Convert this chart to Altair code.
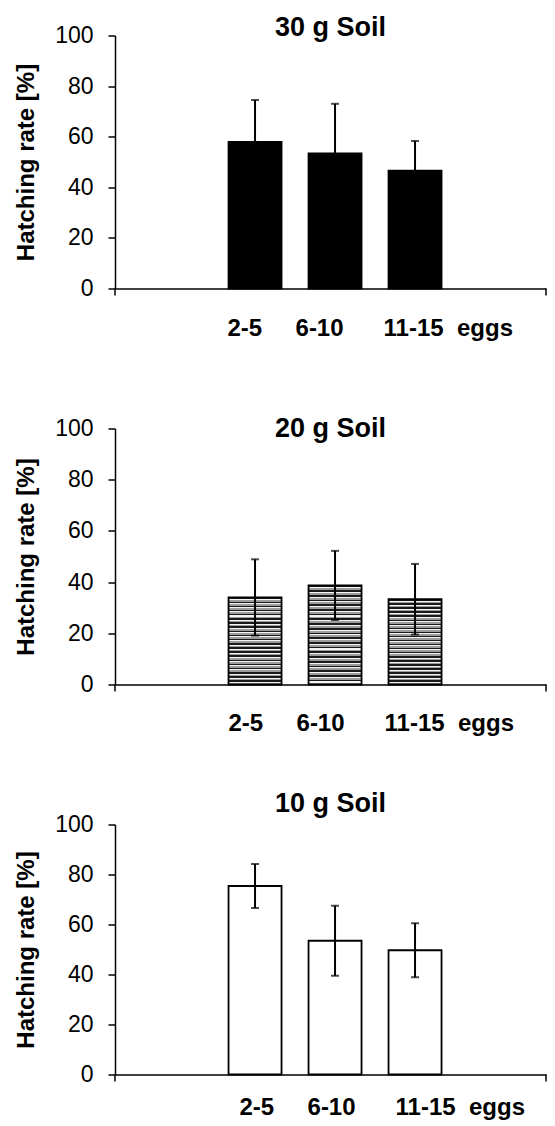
import altair as alt
import pandas as pd

# ---- data ----
cats = ["2-5", "6-10", "11-15"]
x_unit = "eggs"
panel_titles = ["30 g Soil", "20 g Soil", "10 g Soil"]
soil30_mean = [57.9, 53.4, 46.6]
soil30_err = [16.6, 19.6, 11.7]
soil20_mean = [34.0, 38.7, 33.3]
soil20_err = [14.9, 13.5, 13.8]
soil10_mean = [75.4, 53.5, 49.7]
soil10_err = [8.8, 14.0, 10.8]
y_ticks = [0, 20, 40, 60, 80, 100]

FONT = "Liberation Sans"
NB = "\u00a0"
xlabel = cats[0] + NB * 5 + cats[1] + NB * 6 + cats[2] + NB * 2 + x_unit
# one empty slot to the left of the three groups (as on the original category axis)
x_domain = ["_left"] + cats

# horizontal hatch (as a striped gradient)
stops = []
n_str = 21
for i in range(n_str):
    a = round(i / n_str, 5)
    b = round((i + 0.35) / n_str, 5)
    c = round((i + 0.6) / n_str, 5)
    d = round((i + 1) / n_str, 5)
    stops += [
        alt.GradientStop(color="#1a1a1a", offset=a),
        alt.GradientStop(color="#1a1a1a", offset=b),
        alt.GradientStop(color="#f4f4f4", offset=b),
        alt.GradientStop(color="#f4f4f4", offset=c),
        alt.GradientStop(color="#9c9c9c", offset=c),
        alt.GradientStop(color="#9c9c9c", offset=d),
    ]
hatch = alt.Gradient(gradient="linear", stops=stops, x1=0, x2=0, y1=0, y2=1)


def panel(means, errs, title, fill, w, h, t_off, tx, ty):
    df = pd.DataFrame({
        "cat": cats,
        "mean": means,
        "lo": [m - e for m, e in zip(means, errs)],
        "hi": [m + e for m, e in zip(means, errs)],
    })
    xsc = alt.Scale(domain=x_domain, paddingInner=0.3375, paddingOuter=0.8625,
                    align=0.243)
    xenc = alt.X("cat:N", scale=xsc, axis=alt.Axis(
        labels=False, ticks=False, domainColor="black", domainWidth=1.5,
        title=xlabel, titleX=tx, titleY=ty, titleAlign="left",
        titleBaseline="alphabetic", titleFont=FONT, titleFontSize=24,
        titleFontWeight="bold", titleColor="black"))
    ysc = alt.Scale(domain=[0, 100], nice=False)
    yenc = alt.Y("mean:Q", scale=ysc, axis=alt.Axis(
        values=y_ticks, tickSize=7, tickColor="black", tickWidth=1.5,
        domainColor="black", domainWidth=1.5, labelFont=FONT,
        labelFontSize=23, labelColor="black", labelPadding=15, grid=False,
        title="Hatching rate [%]", titleFont=FONT, titleFontSize=24,
        titleFontWeight="bold", titleColor="black", titlePadding=16))
    base = alt.Chart(df)
    bars = base.mark_bar(fill=fill, stroke="black", strokeWidth=1.8).encode(x=xenc, y=yenc)
    rule = base.mark_rule(color="black", strokeWidth=2).encode(
        x=alt.X("cat:N", scale=xsc), y=alt.Y("lo:Q", scale=ysc), y2="hi:Q")
    cap_hi = base.mark_tick(color="black", size=8, thickness=2).encode(
        x=alt.X("cat:N", scale=xsc), y=alt.Y("hi:Q", scale=ysc))
    cap_lo = base.mark_tick(color="black", size=8, thickness=2).encode(
        x=alt.X("cat:N", scale=xsc), y=alt.Y("lo:Q", scale=ysc))
    one = alt.Chart(alt.Data(values=[{"k": 0}]))
    end_l = one.mark_rule(color="black", strokeWidth=1.5).encode(
        x=alt.value(0), y=alt.value(h), y2=alt.value(h + 7))
    end_r = one.mark_rule(color="black", strokeWidth=1.5).encode(
        x=alt.value(w), y=alt.value(h), y2=alt.value(h + 7))
    return alt.layer(bars, rule, cap_hi, cap_lo, end_l, end_r).properties(
        width=w, height=h,
        title=alt.TitleParams(title, font=FONT, fontSize=27, fontWeight="bold",
                              color="black", anchor="middle", frame="group",
                              baseline="alphabetic", offset=t_off))


p1 = panel(soil30_mean, soil30_err, panel_titles[0], "black", 431, 253, -38, 112, 47)
p2 = panel(soil20_mean, soil20_err, panel_titles[1], hatch, 431, 256, -46, 113, 46)
p3 = panel(soil10_mean, soil10_err, panel_titles[2], "white", 431, 250, -25, 124, 40)

chart = alt.vconcat(p1, p2, p3, spacing=140, bounds="flush").configure_view(
    stroke=None).properties(
    padding={"left": 6, "top": 5.5, "right": 0, "bottom": 0}, background="white")

chart.save("out.html", embed_options={"renderer": "svg", "actions": False})
